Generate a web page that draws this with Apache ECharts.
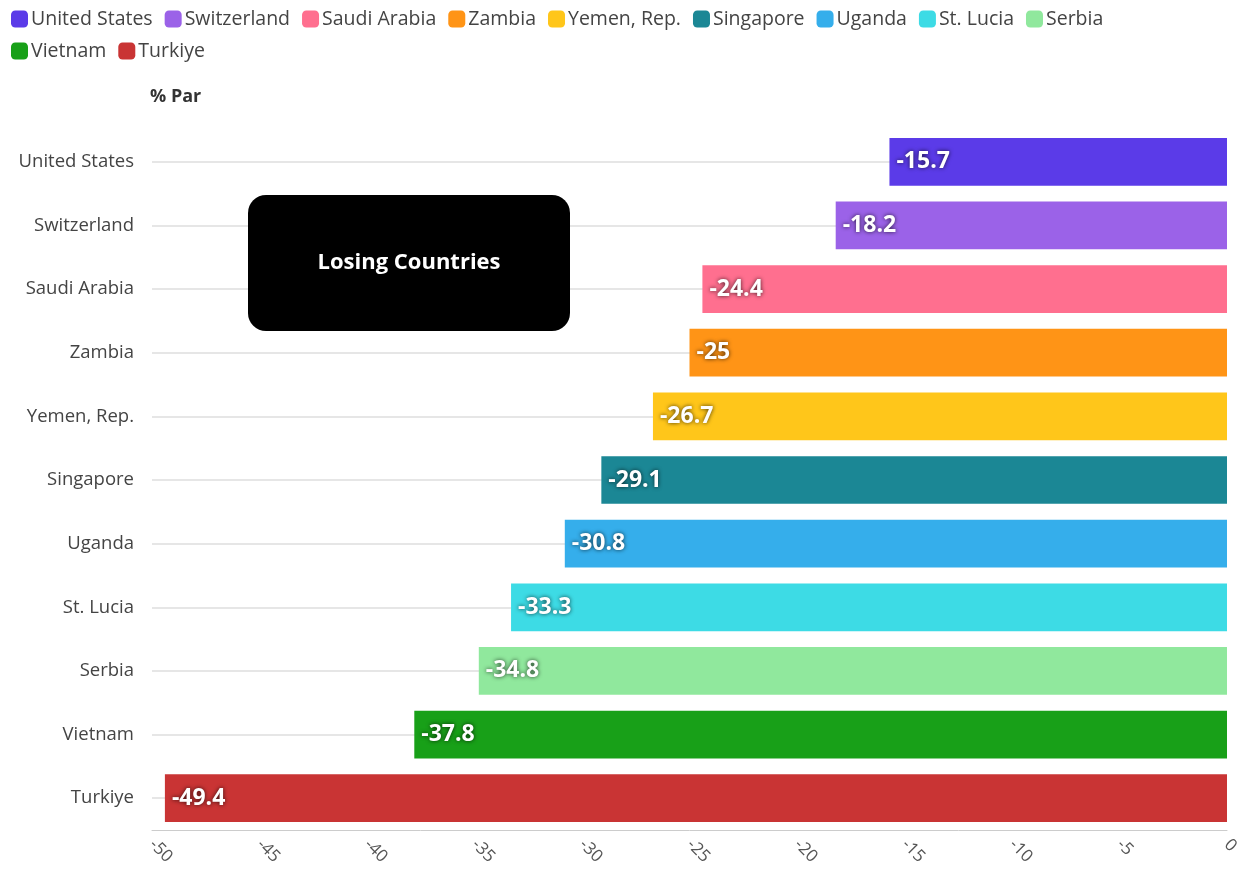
<!DOCTYPE html>
<html><head><meta charset="utf-8">
<script src="https://cdn.jsdelivr.net/npm/echarts@6/dist/echarts.min.js"></script>
<style>html,body{margin:0;padding:0;background:#fff}#c{width:1243px;height:877px}</style>
</head><body><div id="c"></div>
<script>
const categories = ["United States","Switzerland","Saudi Arabia","Zambia","Yemen, Rep.","Singapore","Uganda","St. Lucia","Serbia","Vietnam","Turkiye"];
const values = [-15.7,-18.2,-24.4,-25,-26.7,-29.1,-30.8,-33.3,-34.8,-37.8,-49.4];
const colors = ["#5b3be8","#9b62e8","#ff6f8f","#ff9416","#ffc61a","#1b8795","#35aeeb","#3ddbe5","#90e89d","#18a018","#c93434"];
const xTicks = [-50,-45,-40,-35,-30,-25,-20,-15,-10,-5,0];
const series = categories.map((c,i)=>({
  name:c, type:'bar', stack:'all', barWidth:'75%', color:colors[i], zlevel:1,
  data: categories.map((_,j)=> j===i ? values[i] : '-'),
  label:{show:true, position:'insideLeft', distance:7, color:'#fff', fontWeight:'bold', fontSize:23,
    fontFamily:'Open Sans', textShadowColor:'rgba(0,0,0,0.75)', textShadowBlur:4}
}));
series.push({type:'line', data:[], silent:true, zlevel:0,
  markLine:{silent:true, symbol:'none', label:{show:false}, lineStyle:{color:'#e6e6e6', width:2, type:'solid'},
    data:categories.map(c=>({yAxis:c}))}});
const chart = echarts.init(document.getElementById('c'));
chart.setOption({
  animation:false,
  legend:{left:6, top:4, width:1180, itemWidth:17, itemHeight:17, itemGap:12, icon:'roundRect',
    textStyle:{fontSize:19.5, color:'#444', fontFamily:'Open Sans', padding:[0,0,0,-2]}},
  grid:{left:152, right:16, top:130, bottom:47, containLabel:false, outerBoundsMode:'none'},
  xAxis:{type:'value', min:-50, max:0, interval:5,
    axisLabel:{rotate:-45, fontSize:17, color:'#555', fontFamily:'Open Sans', margin:12,
      formatter:v=>xTicks.includes(v)?String(v):''},
    splitLine:{show:false}, axisLine:{show:true, lineStyle:{color:'#ccc'}}, axisTick:{show:false}},
  yAxis:{type:'category', data:categories, inverse:true,
    axisLabel:{fontSize:18.5, color:'#444', fontFamily:'Open Sans', margin:18},
    axisLine:{show:false}, axisTick:{show:false}, splitLine:{show:false}},
  graphic:[
    {type:'text', left:150, top:88, zlevel:2, style:{text:'% Par', fill:'#333', font:'bold 18px "Open Sans"'}},
    {type:'rect', left:248, top:195, zlevel:2, z:100, shape:{width:322,height:136,r:18}, style:{fill:'#000'}},
    {type:'text', x:409, y:263, zlevel:2, z:101, style:{text:'Losing Countries', fill:'#fff', font:'bold 22px "Open Sans"', align:'center', verticalAlign:'middle'}}
  ],
  series
});
</script></body></html>
